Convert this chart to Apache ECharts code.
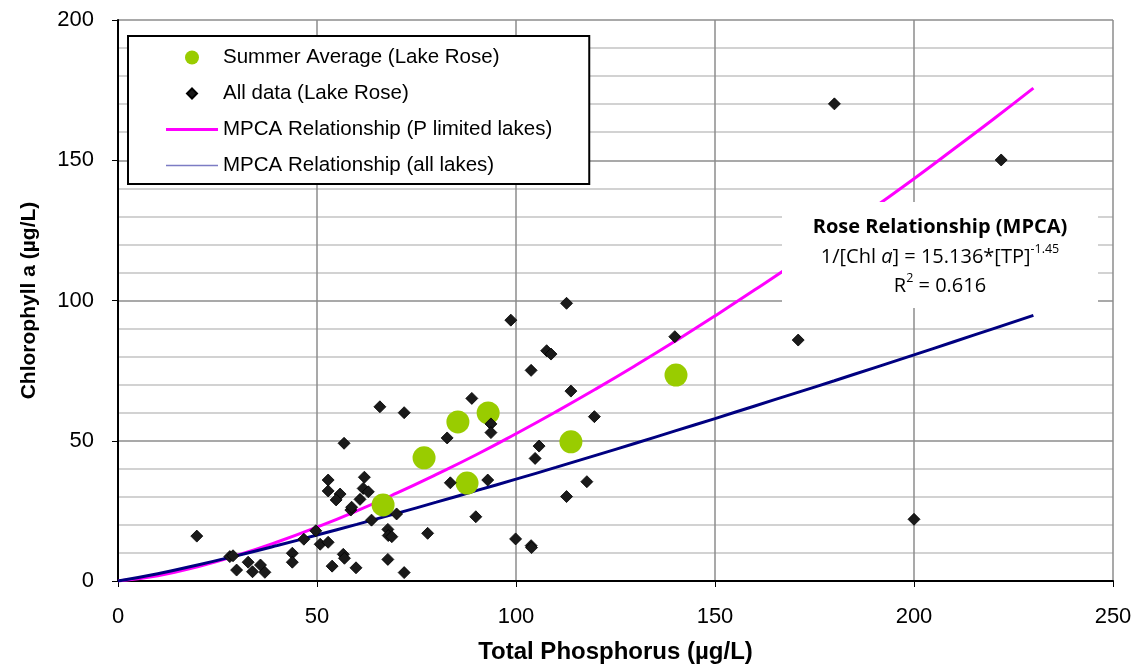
<!DOCTYPE html>
<html>
<head>
<meta charset="utf-8">
<script src="https://cdn.jsdelivr.net/npm/echarts@6/dist/echarts.min.js"></script>
<style>
html,body{margin:0;padding:0;background:#fff;}
#chart{width:1137px;height:671px;}
</style>
</head>
<body>
<div id="chart"></div>
<script>
// Tick labels
const xTicks = [0, 50, 100, 150, 200, 250];
const yTicks = [0, 50, 100, 150, 200];

// Summer averages (Lake Rose): [TP, Chl a]
const summerTP  = [66.6, 76.9, 85.4, 93.0, 87.7, 113.8, 140.2];
const summerChl = [27.1, 43.9, 56.7, 59.9, 34.9, 49.6, 73.4];

// All data (Lake Rose)
const allTP  = [19.8, 28.1, 28.9, 29.8, 32.7, 33.8, 35.8, 36.9, 43.8, 43.8, 46.7, 49.7, 50.8, 52.8, 53.8, 56.6, 56.9, 59.8,
                52.8, 52.8, 55.8, 54.8, 56.8, 58.5, 58.7, 60.8, 61.6, 61.9, 62.9, 63.7, 65.8, 67.8, 67.9, 68.8, 67.8, 70.0,
                71.9, 71.9, 77.8, 82.7, 83.5, 88.9, 89.9, 92.9, 93.7, 93.7, 98.7, 99.9, 103.8, 103.9, 103.8, 104.8, 105.8,
                107.7, 108.8, 112.7, 112.7, 113.8, 117.8, 119.7, 139.9, 170.9, 180.0, 200.0, 221.9];
const allChl = [16.0, 8.7, 9.0, 3.9, 6.7, 3.3, 5.7, 3.1, 9.9, 6.7, 14.9, 17.9, 13.1, 13.8, 5.3, 9.5, 8.1, 4.7,
                36.0, 32.1, 31.0, 28.9, 49.1, 25.3, 26.3, 29.1, 33.0, 37.0, 31.8, 21.7, 62.1, 18.4, 16.2, 15.8, 7.7, 23.9,
                60.0, 3.0, 17.0, 51.0, 35.0, 65.1, 22.9, 36.0, 56.0, 52.9, 93.0, 15.0, 12.6, 11.9, 75.1, 43.7, 48.1,
                82.1, 80.9, 99.0, 30.1, 67.7, 35.4, 58.6, 87.1, 85.9, 170.1, 22.0, 150.1];

// MPCA relationship curves
const curveTP     = [0, 10, 20, 30, 40, 50, 60, 70, 80, 90, 100, 110, 120, 130, 140, 150, 160, 170, 180, 190, 200, 210, 220, 230];
const pLimitedChl = [0, 1.86, 5.09, 9.16, 13.9, 19.2, 25.0, 31.3, 38.0, 45.0, 52.5, 60.3, 68.4, 76.8, 85.5, 94.5, 103.8, 113.3, 123.1, 133.2, 143.4, 154.0, 164.7, 175.7];
const allLakesChl = [0, 2.57, 5.71, 9.09, 12.66, 16.38, 20.2, 24.1, 28.1, 32.2, 36.3, 40.5, 44.8, 49.1, 53.5, 57.9, 62.4, 66.9, 71.4, 76.0, 80.6, 85.3, 90.0, 94.7];

const zip = (a, b) => a.map((v, i) => [v, b[i]]);

const FONT = '"Liberation Sans", Arial, sans-serif';
const NOTE_FONT = '"Open Sans", Lato, sans-serif';
const chart = echarts.init(document.getElementById('chart'));
chart.setOption({
  animation: false,
  backgroundColor: '#fff',
  grid: { left: 118, top: 20, right: 24, bottom: 90, show: false },
  xAxis: {
    type: 'value', min: 0, max: 250, interval: 50,
    name: 'Total Phosphorus (µg/L)', nameLocation: 'middle', nameGap: 59,
    nameTextStyle: { fontFamily: FONT, fontSize: 24, fontWeight: 'bold', color: '#000' },
    axisLine: { show: true, onZero: false, lineStyle: { color: '#000', width: 2 } },
    axisTick: { show: true, length: 6, lineStyle: { color: '#000', width: 1 } },
    axisLabel: { fontFamily: FONT, fontSize: 22, color: '#000', margin: 25,
                 formatter: v => xTicks.includes(v) ? String(v) : '' },
    splitLine: { show: true, lineStyle: { color: '#8c8c8c', width: 1.5 } }
  },
  yAxis: {
    type: 'value', min: 0, max: 200, interval: 50,
    name: 'Chlorophyll a (µg/L)', nameLocation: 'middle', nameGap: 78, nameRotate: 90,
    nameTextStyle: { fontFamily: FONT, fontSize: 21, fontWeight: 'bold', color: '#000' },
    axisLine: { show: true, onZero: false, lineStyle: { color: '#000', width: 2 } },
    axisTick: { show: true, length: 6, lineStyle: { color: '#000', width: 1 } },
    axisLabel: { fontFamily: FONT, fontSize: 22, color: '#000', margin: 24,
                 formatter: v => yTicks.includes(v) ? String(v) : '' },
    splitLine: { show: true, lineStyle: { color: '#8c8c8c', width: 1.5 } },
    minorTick: { show: false, splitNumber: 5 },
    minorSplitLine: { show: true, lineStyle: { color: '#c4c4c4', width: 1.5 } }
  },
  legend: {
    orient: 'vertical', left: 128, top: 36,
    backgroundColor: '#fff', borderColor: '#000', borderWidth: 2, borderRadius: 0,
    padding: [11, 37, 8, 37], itemGap: 15, itemWidth: 52, itemHeight: 14,
    textStyle: { fontFamily: FONT, fontSize: 20.5, color: '#000' },
    data: [
      { name: 'Summer Average (Lake Rose)', icon: 'circle' },
      { name: 'All data (Lake Rose)', icon: 'path://M0,0 M52,14 M26,2 L31,7 L26,12 L21,7 Z' },
      { name: 'MPCA Relationship (P limited lakes)', icon: 'path://M0,0 M52,14 M0,5.5 L52,5.5 L52,8.5 L0,8.5 Z',
        itemStyle: { color: '#ff00ff', borderWidth: 0 } },
      { name: 'MPCA Relationship (all lakes)', icon: 'path://M0,0 M52,14 M0,6.3 L52,6.3 L52,7.7 L0,7.7 Z',
        itemStyle: { color: '#7c7cc4', borderWidth: 0 } }
    ]
  },
  series: [
    { name: 'MPCA Relationship (P limited lakes)', type: 'line', data: zip(curveTP, pLimitedChl),
      smooth: true, symbol: 'none', z: 2,
      lineStyle: { color: '#ff00ff', width: 3 }, itemStyle: { color: '#ff00ff' } },
    { name: 'MPCA Relationship (all lakes)', type: 'line', data: zip(curveTP, allLakesChl),
      smooth: true, symbol: 'none', z: 3,
      lineStyle: { color: '#000080', width: 3 }, itemStyle: { color: '#000080' } },
    { name: 'Summer Average (Lake Rose)', type: 'scatter', data: zip(summerTP, summerChl),
      symbol: 'circle', symbolSize: 23, z: 4, itemStyle: { color: '#99cc00', opacity: 1 } },
    { name: 'All data (Lake Rose)', type: 'scatter', data: zip(allTP, allChl),
      symbol: 'diamond', symbolSize: 12, z: 5,
      itemStyle: { color: '#1a1a1a', borderColor: '#000', borderWidth: 0.8, opacity: 1 } }
  ],
  graphic: [
    { type: 'rect', z: 100, shape: { x: 782, y: 202, width: 316, height: 106 },
      style: { fill: '#fff', stroke: null } },
    { type: 'text', z: 101, x: 940, y: 213,
      style: {
        text: '{b|Rose Relationship (MPCA)}\n{n|1/[Chl }{i|a}{n|] = 15.136*[TP]}{s|-1.45}\n{n|R}{s|2}{n| = 0.616}',
        align: 'center', verticalAlign: 'top', fill: '#000',
        fontFamily: NOTE_FONT, fontSize: 20, lineHeight: 29.5,
        rich: {
          b: { fontFamily: NOTE_FONT, fontSize: 20, fontWeight: 'bold', lineHeight: 29.5, fill: '#000' },
          n: { fontFamily: NOTE_FONT, fontSize: 20, lineHeight: 29.5, fill: '#000' },
          i: { fontFamily: NOTE_FONT, fontSize: 20, fontStyle: 'italic', lineHeight: 29.5, fill: '#000' },
          s: { fontFamily: NOTE_FONT, fontSize: 12.5, lineHeight: 29.5, verticalAlign: 'top', padding: [0, 0, 9, 0], fill: '#000' }
        }
      } }
  ]
});
</script>
</body>
</html>
